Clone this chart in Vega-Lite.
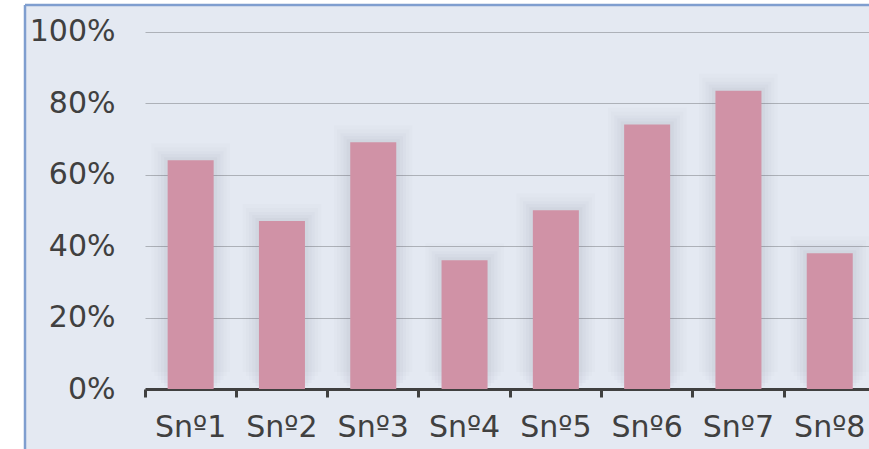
{
  "$schema": "https://vega.github.io/schema/vega-lite/v6.json",
  "width": 844,
  "height": 444,
  "autosize": {"type": "none"},
  "padding": {"left": 25, "top": 5, "right": 0, "bottom": 0},
  "background": "#ffffff",
  "config": {
    "font": "DejaVu Sans",
    "view": {"fill": "#e4e9f2", "stroke": "#7f9ecf", "strokeWidth": 2.5, "strokeDash": [844, 1288, 444, 0]}
  },
  "data": {
    "values": [
      {"sample": "Snº1", "value": 0.64},
      {"sample": "Snº2", "value": 0.47},
      {"sample": "Snº3", "value": 0.69},
      {"sample": "Snº4", "value": 0.36},
      {"sample": "Snº5", "value": 0.50},
      {"sample": "Snº6", "value": 0.74},
      {"sample": "Snº7", "value": 0.834},
      {"sample": "Snº8", "value": 0.38}
    ]
  },
  "encoding": {
    "x": {
      "field": "sample",
      "type": "nominal",
      "sort": null,
      "scale": {"range": [120, 850.4], "paddingInner": 0, "paddingOuter": 0},
      "axis": {
        "orient": "bottom",
        "offset": -60,
        "bandPosition": 0,
        "domainColor": "#404040",
        "domainWidth": 3,
        "tickColor": "#404040",
        "tickWidth": 3,
        "tickSize": 8,
        "labelPadding": 15,
        "labelFontSize": 30,
        "labelColor": "#404040",
        "labelAngle": 0,
        "grid": false,
        "title": null
      }
    },
    "y": {
      "field": "value",
      "type": "quantitative",
      "scale": {"domain": [0, 1], "range": [384, 26.5], "nice": false},
      "axis": {
        "orient": "left",
        "offset": -120,
        "format": ".0%",
        "values": [0, 0.2, 0.4, 0.6, 0.8, 1],
        "domain": false,
        "ticks": false,
        "labelPadding": 30,
        "labelFontSize": 30,
        "labelColor": "#404040",
        "gridColor": "#adb1b8",
        "gridWidth": 1,
        "title": null
      }
    }
  },
  "layer": [
    {"mark": {"type": "bar", "color": "#505a70", "opacity": 0.018, "width": {"band": 0.86}, "yOffset": -17, "y2Offset": 0}},
    {"mark": {"type": "bar", "color": "#505a70", "opacity": 0.02, "width": {"band": 0.79}, "yOffset": -13, "y2Offset": 0}},
    {"mark": {"type": "bar", "color": "#505a70", "opacity": 0.025, "width": {"band": 0.72}, "yOffset": -9, "y2Offset": 0}},
    {"mark": {"type": "bar", "color": "#505a70", "opacity": 0.03, "width": {"band": 0.65}, "yOffset": -6, "y2Offset": 0}},
    {"mark": {"type": "bar", "color": "#505a70", "opacity": 0.035, "width": {"band": 0.58}, "yOffset": -3, "y2Offset": 0}},
    {"mark": {"type": "bar", "color": "#d092a6", "width": {"band": 0.504}}}
  ]
}
